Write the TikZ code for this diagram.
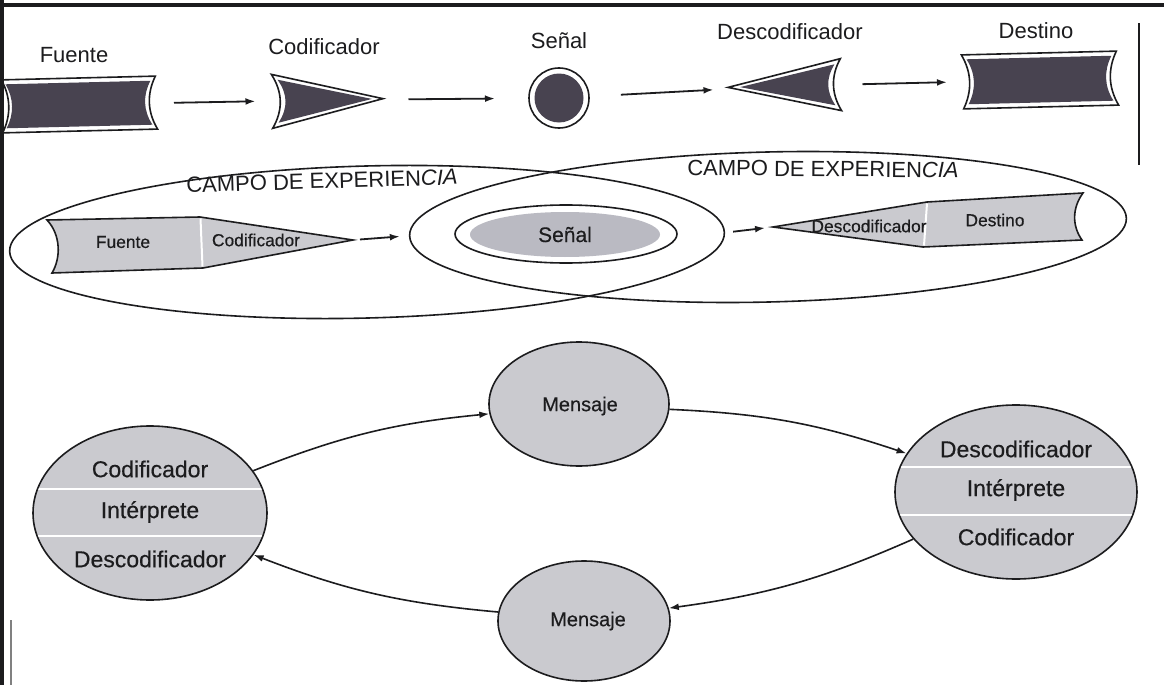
\documentclass[tikz,border=0pt]{standalone}
\usepackage{fontspec}
\setmainfont{Liberation Sans}
\newfontfamily\heavysans[FakeBold=0.45]{Liberation Sans}
\usetikzlibrary{arrows.meta,shapes.geometric}

\definecolor{inkdark}{RGB}{72,67,80}
\definecolor{stipple}{RGB}{202,202,207}
\definecolor{stippleB}{RGB}{186,186,194}
\definecolor{rule}{RGB}{28,28,30}

\tikzset{
  outline/.style={draw=rule, line width=0.8pt},
  arr/.style={draw=rule, line width=0.9pt, -{Latex[length=5pt,width=3.4pt]}},
  cycarr/.style={draw=rule, line width=0.8pt, -{Latex[length=5pt,width=3.4pt]}},
  toplabel/.style={font=\fontsize{11}{13}\selectfont, text=rule},
  fieldlabel/.style={font=\fontsize{11}{13}\selectfont, text=rule},
  smalllabel/.style={font=\heavysans\fontsize{8.7}{10}\selectfont, text=rule, inner sep=0},
  biglabel/.style={font=\heavysans\fontsize{11.5}{13}\selectfont, text=rule, inner sep=0},
  msglabel/.style={font=\heavysans\fontsize{10}{12}\selectfont, text=rule, inner sep=0},
  anchorbox/.style={inner sep=0, outer sep=0},
  divider/.style={draw=white, line width=1pt},
  bubble/.style={ellipse, outline, fill=stipple, inner sep=0},
}

\begin{document}
\begin{tikzpicture}[x=0.5pt,y=-0.5pt]
\useasboundingbox (0,0) rectangle (1164,685);
\fill[white] (0,0) rectangle (1164,685);

% ---------- linear model: source -> encoder -> signal -> decoder -> destination
\begin{scope}[shift={(79,104.5)},rotate=1.4]
  \draw[outline, fill=white] (-77,-26.5) -- (77,-26.5) .. controls (68,-9) and (68,9) .. (78,26.5)
        -- (-77,26.5) .. controls (-68,9) and (-68,-9) .. (-77,-26.5) -- cycle;
  \fill[inkdark] (-73,-22) -- (72,-22) .. controls (64,-8) and (64,8) .. (73,22)
        -- (-73,22) .. controls (-65,8) and (-65,-8) .. (-73,-22) -- cycle;
\end{scope}
\begin{scope}[shift={(328,100)},rotate=1.4]
  \draw[outline, fill=white] (-56,-27) .. controls (-45,-9) and (-45,9) .. (-56,27) -- (55,0) -- cycle;
  \fill[inkdark] (-50,-21.5) .. controls (-40,-7) and (-40,7) .. (-50,21.5) -- (44,0) -- cycle;
\end{scope}
\draw[outline, fill=white] (559,98) circle[radius=30];
\fill[inkdark] (559,98) circle[radius=24.5];
\begin{scope}[shift={(785,86)},rotate=1.4]
  \draw[outline, fill=white] (-57,0) -- (56,-26) .. controls (46,-9) and (46,9) .. (56,26) -- cycle;
  \fill[inkdark] (-45,0) -- (50,-20.5) .. controls (41,-7) and (41,7) .. (50,20.5) -- cycle;
\end{scope}
\begin{scope}[shift={(1040,80)},rotate=1.4]
  \draw[outline, fill=white] (-78,-27) -- (77,-27) .. controls (68,-9) and (68,9) .. (78,27)
        -- (-77,27) .. controls (-68,9) and (-68,-9) .. (-78,-27) -- cycle;
  \fill[inkdark] (-73,-22.5) -- (72,-22.5) .. controls (64,-8) and (64,8) .. (73,22.5)
        -- (-72,22.5) .. controls (-64,8) and (-64,-8) .. (-73,-22.5) -- cycle;
\end{scope}

\node[anchorbox, minimum width=77pt, minimum height=26.5pt] (fuente) at (79,104.5) {};
\node[anchorbox, minimum width=55.5pt, minimum height=27.5pt] (codif) at (328,100) {};
\node[anchorbox, circle, minimum size=30pt] (senal) at (559,98) {};
\node[anchorbox, minimum width=56.5pt, minimum height=26pt] (descod) at (785,86) {};
\node[anchorbox, minimum width=78pt, minimum height=27pt] (destino) at (1040,80) {};

\draw[arr, shorten <=9pt, shorten >=8.5pt] (fuente) -- (codif);
\draw[arr, shorten <=12.5pt, shorten >=17pt] (codif) -- (senal);
\draw[arr, shorten <=16pt, shorten >=7.5pt] (senal) -- (descod);
\draw[arr, shorten <=10.5pt, shorten >=7.5pt] (descod) -- (destino);

\node[toplabel] (tFuente) at (74,55) {Fuente};
\node[toplabel] (tCodif) at (324,47) {Codificador};
\node[toplabel] (tSenal) at (559,41) {Señal};
\node[toplabel] (tDescod) at (790,32) {Descodificador};
\node[toplabel] (tDestino) at (1036,31) {Destino};

% ---------- overlapping fields of experience
\node[ellipse, outline, inner sep=0, minimum width=357.5pt, minimum height=76pt, rotate=1.5] (campoL) at (367,242) {};
\node[ellipse, outline, inner sep=0, minimum width=358.5pt, minimum height=75pt, rotate=1.4] (campoR) at (768,227) {};
\node[fieldlabel, rotate=1.7] (tCampoL) at (322,181) {CAMPO DE EXPERIEN\textit{CIA}};
\node[fieldlabel, rotate=-0.5] (tCampoR) at (823,169) {CAMPO DE EXPERIEN\textit{CIA}};

\node[ellipse, outline, inner sep=0, minimum width=111pt, minimum height=29pt] (senalRing) at (566,234) {};
\node[ellipse, fill=stippleB, inner sep=0, minimum width=95pt, minimum height=22.5pt,
      font=\heavysans\fontsize{10.5}{12}\selectfont, text=rule] (senalM) at (565,234.5) {Señal};

% sender: source + encoder
\draw[outline, fill=stipple] (47,220) -- (200,217) -- (353,240) -- (203,268) -- (52,273)
      .. controls (61,258) and (61,235) .. (47,220) -- cycle;
\draw[divider] (200.5,218.5) -- (202.5,266.5);
\coordinate (codM) at (353,240);
\node[smalllabel] (fuenteM) at (123,242) {Fuente};
\node[smalllabel] (codifM) at (256,240) {Codificador};

% receiver: decoder + destination
\draw[outline, fill=stipple] (773,227) -- (927,202) -- (1083,193)
      .. controls (1072,208) and (1072,226) .. (1082,240) -- (923,247) -- cycle;
\draw[divider] (927,203.5) -- (924,245.5);
\coordinate (descM) at (773,227);
\node[smalllabel] (descodM) at (869,226) {Descodificador};
\node[smalllabel] (destinoM) at (995,220) {Destino};

\draw[arr, shorten <=3.5pt, shorten >=4.5pt] (codM) -- (campoR.west);
\draw[arr, shorten <=4pt, shorten >=4pt] (campoL.east) -- (descM);

% ---------- circular model
\node[bubble, minimum width=117pt, minimum height=87pt] (emisor) at (150,513) {};
\node[bubble, minimum width=121pt, minimum height=87pt] (receptor) at (1016,492) {};
\node[bubble, minimum width=90pt, minimum height=62pt] (msgA) at (579,404) {};
\node[bubble, minimum width=86pt, minimum height=60pt] (msgB) at (584,621) {};

\begin{scope}
  \clip (150,513) ellipse [x radius=116, y radius=86];
  \draw[divider] (30,489) -- (270,489);
  \draw[divider] (30,536) -- (270,536);
\end{scope}
\begin{scope}
  \clip (1016,492) ellipse [x radius=120, y radius=86];
  \draw[divider] (890,467) -- (1140,467);
  \draw[divider] (890,515) -- (1140,515);
\end{scope}

\node[biglabel] (eCod) at (150,469) {Codificador};
\node[biglabel] (eInt) at (150,512) {Intérprete};
\node[biglabel] (eDes) at (150,559) {Descodificador};
\node[biglabel] (rDes) at (1016,449) {Descodificador};
\node[biglabel] (rInt) at (1016,490) {Intérprete};
\node[biglabel] (rCod) at (1016,537) {Codificador};
\node[msglabel] (tMsgA) at (580,406) {Mensaje};
\node[msglabel] (tMsgB) at (588,621) {Mensaje};

\draw[cycarr] (emisor) to[bend left=8] (msgA);
\draw[cycarr] (msgA) to[bend left=8] (receptor);
\draw[cycarr] (receptor) to[bend left=8] (msgB);
\draw[cycarr] (msgB) to[bend left=8] (emisor);

% ---------- page frame
\draw[rule, line width=1.6pt] (0,5) -- (1164,5);
\draw[rule, line width=1.6pt] (2,0) -- (2,685);
\draw[rule, line width=1pt] (1139,23) -- (1139,165);
\draw[gray, line width=1pt] (11,620) -- (11,685);
\end{tikzpicture}
\end{document}
